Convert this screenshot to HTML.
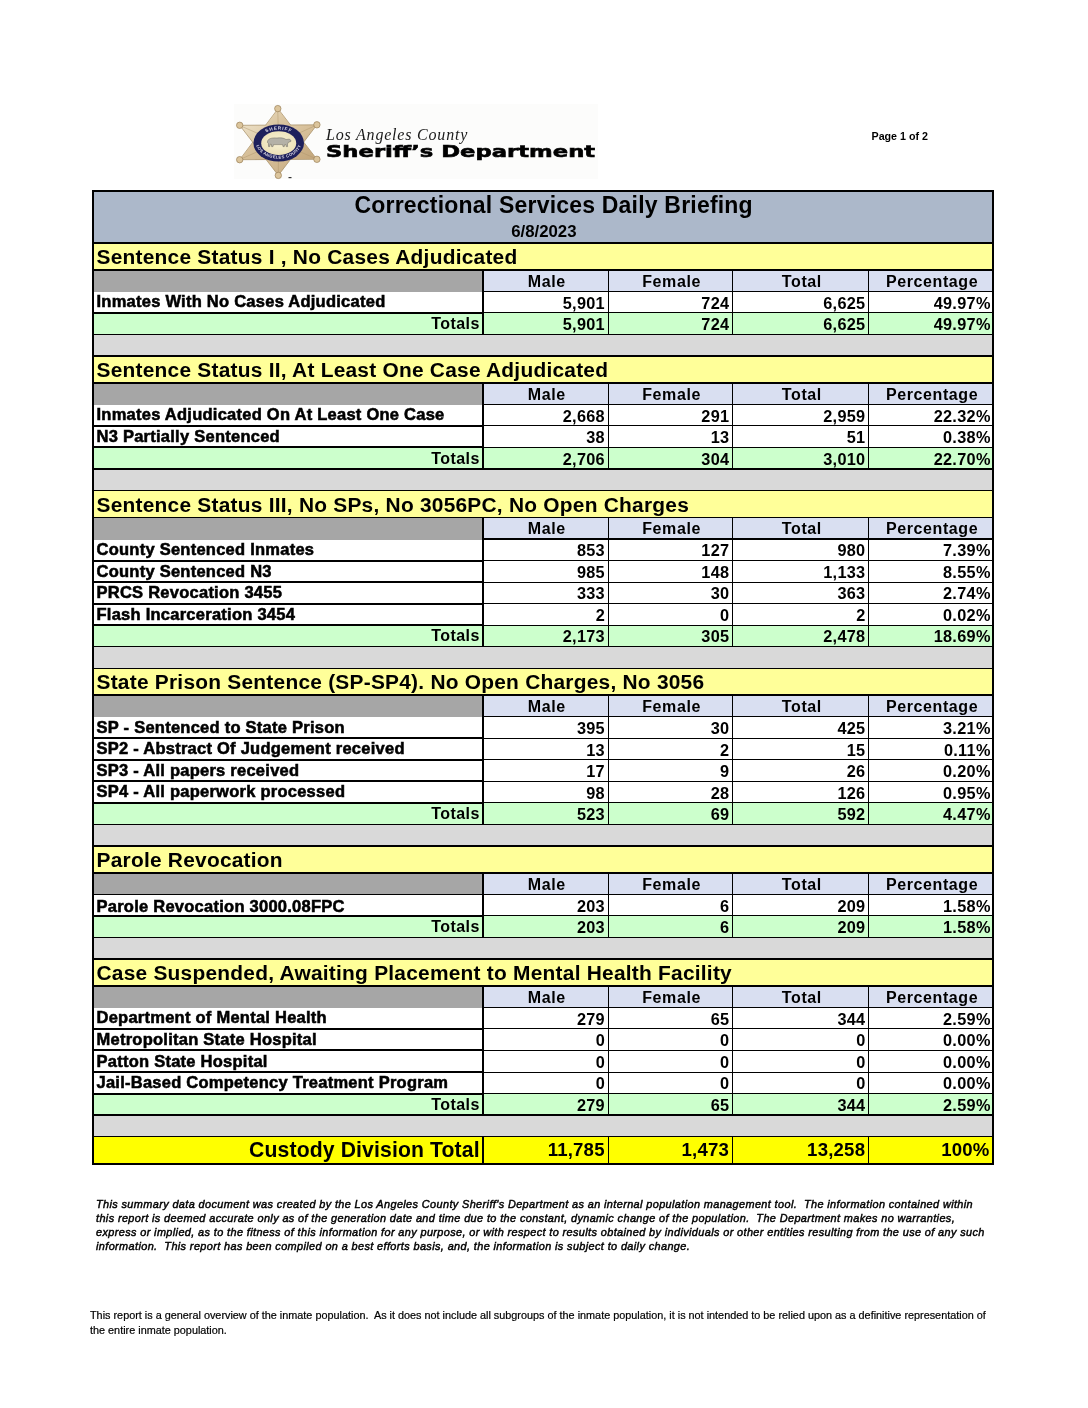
<!DOCTYPE html>
<html><head><meta charset="utf-8"><title>Correctional Services Daily Briefing</title>
<style>
html,body{margin:0;padding:0;background:#fff}
#page{position:relative;width:1088px;height:1408px;overflow:hidden;background:#fff;font-family:"Liberation Sans", Arial, Helvetica, sans-serif;color:#000}
.a{position:absolute}
.k{background:#000}
.t{position:absolute;white-space:nowrap;font-weight:bold}
.lab{-webkit-text-stroke:0.55px #000}
.title{font-size:23.0px;letter-spacing:0.2px;line-height:23.0px}
.date{font-size:16.8px;letter-spacing:0px;line-height:16.8px}
.sec{font-size:20.9px;letter-spacing:0.24px;line-height:20.9px}
.hdr{font-size:16.0px;letter-spacing:0.6px;line-height:16.0px}
.lab{font-size:16.5px;letter-spacing:0.25px;line-height:16.5px}
.num{font-size:16.3px;letter-spacing:0.3px;line-height:16.3px}
.tot{font-size:16.0px;letter-spacing:0.45px;line-height:16.0px}
.ftot{font-size:21.2px;letter-spacing:0.12px;line-height:21.2px}
.fnum{font-size:18.6px;letter-spacing:0.2px;line-height:18.6px}

.pg{position:absolute;left:871.5px;top:130.3px;font-size:10.7px;font-weight:bold;line-height:13px}
.logo-t1{position:absolute;left:326px;top:124.5px;font-family:"Liberation Serif",serif;font-style:italic;font-size:16px;letter-spacing:0.8px;white-space:nowrap;line-height:20px;color:#1a1a1a}
.logo-t2{position:absolute;left:326px;top:140.5px;font-family:"DejaVu Sans","Liberation Sans",sans-serif;font-weight:bold;font-size:16.7px;line-height:20px;white-space:nowrap;transform-origin:0 0;transform:scaleX(1.36);-webkit-text-stroke:0.6px #000}
.foot1{position:absolute;left:96px;top:1197px;font-style:italic;font-size:10.9px;letter-spacing:0.385px;line-height:14.1px;white-space:nowrap;-webkit-text-stroke:0.45px #000}
.foot2{position:absolute;left:90px;top:1308px;font-size:10.85px;line-height:15px;white-space:nowrap;-webkit-text-stroke:0.2px #000}
</style></head>
<body><div id="page">
<div class="a" style="left:234px;top:104px;width:364px;height:75px;background:#fcfcfb"></div>
<svg class="a" style="left:230px;top:100px" width="100" height="85" viewBox="230 100 100 85">
<defs>
<linearGradient id="gd" x1="0" y1="0" x2="1" y2="1"><stop offset="0" stop-color="#ece0c6"/><stop offset="0.45" stop-color="#d8c19b"/><stop offset="1" stop-color="#c3a67b"/></linearGradient>
<radialGradient id="cr" cx="0.5" cy="0.45" r="0.6"><stop offset="0" stop-color="#f8f2d6"/><stop offset="1" stop-color="#ebdfb4"/></radialGradient>
<path id="arcT" d="M259,143 A19.7,13.4 0 0 1 298.4,143"/>
<path id="arcB" d="M255.8,142 A22.9,16.6 0 0 0 301.6,142"/>
</defs>
<g fill="url(#gd)" stroke="#a38b62" stroke-width="0.7" stroke-linejoin="round">
<polygon points="278,108.7 239.7,159.7 316.9,159.3"/>
<polygon points="278.3,175.4 239.7,125.3 316.9,124.8"/>
</g>
<polygon points="278,109.6 240.6,159.1 316,158.8" fill="url(#gd)"/>
<g stroke="#ad9369" stroke-width="0.6" opacity="0.75">
<line x1="278.5" y1="142.5" x2="277.8" y2="111"/><line x1="278.5" y1="142.5" x2="278.3" y2="173"/>
<line x1="278.5" y1="142.5" x2="242" y2="126.5"/><line x1="278.5" y1="142.5" x2="242" y2="158.5"/>
<line x1="278.5" y1="142.5" x2="314.5" y2="126"/><line x1="278.5" y1="142.5" x2="314.5" y2="158"/>
</g>
<g fill="#dcc59c" stroke="#9a8058" stroke-width="0.7">
<circle cx="277.8" cy="108.6" r="3.2"/><circle cx="278.3" cy="175.4" r="3.2"/>
<circle cx="239.7" cy="125.3" r="3.2"/><circle cx="239.7" cy="159.7" r="3.2"/>
<circle cx="316.9" cy="124.8" r="3.2"/><circle cx="316.9" cy="159.3" r="3.2"/>
</g>
<ellipse cx="278.7" cy="143" rx="25.3" ry="18.6" fill="#1e205c"/>
<g font-family="Liberation Sans, sans-serif" font-weight="bold" fill="#dcdae6">
<text font-size="4.6" letter-spacing="0.9" text-anchor="middle"><textPath href="#arcT" startOffset="50%">SHERIFF</textPath></text>
<text font-size="4.2" letter-spacing="0.35" text-anchor="middle"><textPath href="#arcB" startOffset="50%">LOS ANGELES COUNTY</textPath></text>
</g>
<ellipse cx="278.7" cy="143.2" rx="17.5" ry="11.9" fill="url(#cr)"/>
<path d="M267.5,141.5 C268,138.5 272,137.6 277,138 C281,137.5 284,138 286,139.5 L289,139.2 C290.5,139.4 291.2,140.5 290.8,141.5 L288.5,142.2 L287.5,144 L287.6,146.6 L286.2,146.6 L285.8,144.5 L284.5,144.8 L284.3,146.6 L283,146.6 L282.6,144.6 L273.5,144.6 L273,146.6 L271.6,146.6 L271.4,144.4 L270.2,144.2 L269.8,146.6 L268.5,146.6 L268.4,143.5 C267.6,143 267.3,142.3 267.5,141.5 Z" fill="#b4b1a7" stroke="#5d5a52" stroke-width="0.45"/>
<rect x="288.5" y="177" width="3" height="1.2" fill="#333"/>
</svg>
<div class="pg">Page 1 of 2</div>
<div class="logo-t1">Los Angeles County</div>
<div class="logo-t2">Sheriff&#8217;s Department</div>
<div class="a" style="left:92.00px;top:190.50px;width:902.00px;height:52.40px;background:#acb8ca"></div>
<div class="a" style="left:92.00px;top:242.90px;width:902.00px;height:26.85px;background:#ffff99"></div>
<div class="a" style="left:92.00px;top:269.75px;width:391.00px;height:22.15px;background:#a6a6a6"></div>
<div class="a" style="left:483.00px;top:269.75px;width:511.00px;height:21.55px;background:#d9dff1"></div>
<div class="a" style="left:92.00px;top:312.85px;width:902.00px;height:21.55px;background:#ccffcc"></div>
<div class="a" style="left:92.00px;top:334.40px;width:902.00px;height:21.55px;background:#d9d9d9"></div>
<div class="a" style="left:92.00px;top:355.95px;width:902.00px;height:26.85px;background:#ffff99"></div>
<div class="a" style="left:92.00px;top:382.80px;width:391.00px;height:22.15px;background:#a6a6a6"></div>
<div class="a" style="left:483.00px;top:382.80px;width:511.00px;height:21.55px;background:#d9dff1"></div>
<div class="a" style="left:92.00px;top:447.45px;width:902.00px;height:21.55px;background:#ccffcc"></div>
<div class="a" style="left:92.00px;top:469.00px;width:902.00px;height:21.55px;background:#d9d9d9"></div>
<div class="a" style="left:92.00px;top:490.55px;width:902.00px;height:26.85px;background:#ffff99"></div>
<div class="a" style="left:92.00px;top:517.40px;width:391.00px;height:22.15px;background:#a6a6a6"></div>
<div class="a" style="left:483.00px;top:517.40px;width:511.00px;height:21.55px;background:#d9dff1"></div>
<div class="a" style="left:92.00px;top:625.15px;width:902.00px;height:21.55px;background:#ccffcc"></div>
<div class="a" style="left:92.00px;top:646.70px;width:902.00px;height:21.55px;background:#d9d9d9"></div>
<div class="a" style="left:92.00px;top:668.25px;width:902.00px;height:26.85px;background:#ffff99"></div>
<div class="a" style="left:92.00px;top:695.10px;width:391.00px;height:22.15px;background:#a6a6a6"></div>
<div class="a" style="left:483.00px;top:695.10px;width:511.00px;height:21.55px;background:#d9dff1"></div>
<div class="a" style="left:92.00px;top:802.85px;width:902.00px;height:21.55px;background:#ccffcc"></div>
<div class="a" style="left:92.00px;top:824.40px;width:902.00px;height:21.55px;background:#d9d9d9"></div>
<div class="a" style="left:92.00px;top:845.95px;width:902.00px;height:26.85px;background:#ffff99"></div>
<div class="a" style="left:92.00px;top:872.80px;width:391.00px;height:22.15px;background:#a6a6a6"></div>
<div class="a" style="left:483.00px;top:872.80px;width:511.00px;height:21.55px;background:#d9dff1"></div>
<div class="a" style="left:92.00px;top:915.90px;width:902.00px;height:21.55px;background:#ccffcc"></div>
<div class="a" style="left:92.00px;top:937.45px;width:902.00px;height:21.55px;background:#d9d9d9"></div>
<div class="a" style="left:92.00px;top:959.00px;width:902.00px;height:26.85px;background:#ffff99"></div>
<div class="a" style="left:92.00px;top:985.85px;width:391.00px;height:22.15px;background:#a6a6a6"></div>
<div class="a" style="left:483.00px;top:985.85px;width:511.00px;height:21.55px;background:#d9dff1"></div>
<div class="a" style="left:92.00px;top:1093.60px;width:902.00px;height:21.55px;background:#ccffcc"></div>
<div class="a" style="left:92.00px;top:1115.15px;width:902.00px;height:21.55px;background:#d9d9d9"></div>
<div class="a" style="left:92.00px;top:1136.70px;width:902.00px;height:26.85px;background:#ffff00"></div>
<div class="a k" style="left:92.00px;top:242.25px;width:902.00px;height:1.30px"></div>
<div class="a k" style="left:92.00px;top:269.00px;width:902.00px;height:1.50px"></div>
<div class="a k" style="left:482.00px;top:290.55px;width:512.00px;height:1.50px"></div>
<div class="a k" style="left:92.00px;top:312.00px;width:391.00px;height:2.00px"></div>
<div class="a k" style="left:483.00px;top:312.00px;width:511.00px;height:1.00px"></div>
<div class="a k" style="left:92.00px;top:333.65px;width:902.00px;height:1.50px"></div>
<div class="a k" style="left:482.00px;top:269.75px;width:2.00px;height:64.65px"></div>
<div class="a k" style="left:607.50px;top:269.75px;width:1.20px;height:64.65px"></div>
<div class="a k" style="left:731.90px;top:269.75px;width:1.20px;height:64.65px"></div>
<div class="a k" style="left:868.00px;top:269.75px;width:1.20px;height:64.65px"></div>
<div class="a k" style="left:92.00px;top:355.20px;width:902.00px;height:1.50px"></div>
<div class="a k" style="left:92.00px;top:382.05px;width:902.00px;height:1.50px"></div>
<div class="a k" style="left:482.00px;top:403.60px;width:512.00px;height:1.50px"></div>
<div class="a k" style="left:92.00px;top:425.00px;width:391.00px;height:2.00px"></div>
<div class="a k" style="left:483.00px;top:425.00px;width:511.00px;height:1.00px"></div>
<div class="a k" style="left:92.00px;top:446.00px;width:391.00px;height:2.00px"></div>
<div class="a k" style="left:483.00px;top:447.00px;width:511.00px;height:1.00px"></div>
<div class="a k" style="left:92.00px;top:468.25px;width:902.00px;height:1.50px"></div>
<div class="a k" style="left:482.00px;top:382.80px;width:2.00px;height:86.20px"></div>
<div class="a k" style="left:607.50px;top:382.80px;width:1.20px;height:86.20px"></div>
<div class="a k" style="left:731.90px;top:382.80px;width:1.20px;height:86.20px"></div>
<div class="a k" style="left:868.00px;top:382.80px;width:1.20px;height:86.20px"></div>
<div class="a k" style="left:92.00px;top:489.80px;width:902.00px;height:1.50px"></div>
<div class="a k" style="left:92.00px;top:516.65px;width:902.00px;height:1.50px"></div>
<div class="a k" style="left:482.00px;top:538.20px;width:512.00px;height:1.50px"></div>
<div class="a k" style="left:92.00px;top:560.00px;width:391.00px;height:2.00px"></div>
<div class="a k" style="left:483.00px;top:560.00px;width:511.00px;height:1.00px"></div>
<div class="a k" style="left:92.00px;top:581.00px;width:391.00px;height:2.00px"></div>
<div class="a k" style="left:483.00px;top:582.00px;width:511.00px;height:1.00px"></div>
<div class="a k" style="left:92.00px;top:603.00px;width:391.00px;height:2.00px"></div>
<div class="a k" style="left:483.00px;top:603.00px;width:511.00px;height:1.00px"></div>
<div class="a k" style="left:92.00px;top:624.00px;width:391.00px;height:2.00px"></div>
<div class="a k" style="left:483.00px;top:625.00px;width:511.00px;height:1.00px"></div>
<div class="a k" style="left:92.00px;top:645.95px;width:902.00px;height:1.50px"></div>
<div class="a k" style="left:482.00px;top:517.40px;width:2.00px;height:129.30px"></div>
<div class="a k" style="left:607.50px;top:517.40px;width:1.20px;height:129.30px"></div>
<div class="a k" style="left:731.90px;top:517.40px;width:1.20px;height:129.30px"></div>
<div class="a k" style="left:868.00px;top:517.40px;width:1.20px;height:129.30px"></div>
<div class="a k" style="left:92.00px;top:667.50px;width:902.00px;height:1.50px"></div>
<div class="a k" style="left:92.00px;top:694.35px;width:902.00px;height:1.50px"></div>
<div class="a k" style="left:482.00px;top:715.90px;width:512.00px;height:1.50px"></div>
<div class="a k" style="left:92.00px;top:737.00px;width:391.00px;height:2.00px"></div>
<div class="a k" style="left:483.00px;top:738.00px;width:511.00px;height:1.00px"></div>
<div class="a k" style="left:92.00px;top:759.00px;width:391.00px;height:2.00px"></div>
<div class="a k" style="left:483.00px;top:759.00px;width:511.00px;height:1.00px"></div>
<div class="a k" style="left:92.00px;top:780.00px;width:391.00px;height:2.00px"></div>
<div class="a k" style="left:483.00px;top:781.00px;width:511.00px;height:1.00px"></div>
<div class="a k" style="left:92.00px;top:802.00px;width:391.00px;height:2.00px"></div>
<div class="a k" style="left:483.00px;top:802.00px;width:511.00px;height:1.00px"></div>
<div class="a k" style="left:92.00px;top:823.65px;width:902.00px;height:1.50px"></div>
<div class="a k" style="left:482.00px;top:695.10px;width:2.00px;height:129.30px"></div>
<div class="a k" style="left:607.50px;top:695.10px;width:1.20px;height:129.30px"></div>
<div class="a k" style="left:731.90px;top:695.10px;width:1.20px;height:129.30px"></div>
<div class="a k" style="left:868.00px;top:695.10px;width:1.20px;height:129.30px"></div>
<div class="a k" style="left:92.00px;top:845.20px;width:902.00px;height:1.50px"></div>
<div class="a k" style="left:92.00px;top:872.05px;width:902.00px;height:1.50px"></div>
<div class="a k" style="left:92.00px;top:893.60px;width:902.00px;height:1.50px"></div>
<div class="a k" style="left:92.00px;top:915.00px;width:391.00px;height:2.00px"></div>
<div class="a k" style="left:483.00px;top:915.00px;width:511.00px;height:1.00px"></div>
<div class="a k" style="left:92.00px;top:936.70px;width:902.00px;height:1.50px"></div>
<div class="a k" style="left:482.00px;top:872.80px;width:2.00px;height:64.65px"></div>
<div class="a k" style="left:607.50px;top:872.80px;width:1.20px;height:64.65px"></div>
<div class="a k" style="left:731.90px;top:872.80px;width:1.20px;height:64.65px"></div>
<div class="a k" style="left:868.00px;top:872.80px;width:1.20px;height:64.65px"></div>
<div class="a k" style="left:92.00px;top:958.25px;width:902.00px;height:1.50px"></div>
<div class="a k" style="left:92.00px;top:985.10px;width:902.00px;height:1.50px"></div>
<div class="a k" style="left:482.00px;top:1006.65px;width:512.00px;height:1.50px"></div>
<div class="a k" style="left:92.00px;top:1028.00px;width:391.00px;height:2.00px"></div>
<div class="a k" style="left:483.00px;top:1028.00px;width:511.00px;height:1.00px"></div>
<div class="a k" style="left:92.00px;top:1049.00px;width:391.00px;height:2.00px"></div>
<div class="a k" style="left:483.00px;top:1050.00px;width:511.00px;height:1.00px"></div>
<div class="a k" style="left:92.00px;top:1071.00px;width:391.00px;height:2.00px"></div>
<div class="a k" style="left:483.00px;top:1072.00px;width:511.00px;height:1.00px"></div>
<div class="a k" style="left:92.00px;top:1093.00px;width:391.00px;height:2.00px"></div>
<div class="a k" style="left:483.00px;top:1093.00px;width:511.00px;height:1.00px"></div>
<div class="a k" style="left:92.00px;top:1114.40px;width:902.00px;height:1.50px"></div>
<div class="a k" style="left:482.00px;top:985.85px;width:2.00px;height:129.30px"></div>
<div class="a k" style="left:607.50px;top:985.85px;width:1.20px;height:129.30px"></div>
<div class="a k" style="left:731.90px;top:985.85px;width:1.20px;height:129.30px"></div>
<div class="a k" style="left:868.00px;top:985.85px;width:1.20px;height:129.30px"></div>
<div class="a k" style="left:92.00px;top:1135.95px;width:902.00px;height:1.50px"></div>
<div class="a k" style="left:482.00px;top:1136.70px;width:2.00px;height:26.85px"></div>
<div class="a k" style="left:607.50px;top:1136.70px;width:1.20px;height:26.85px"></div>
<div class="a k" style="left:731.90px;top:1136.70px;width:1.20px;height:26.85px"></div>
<div class="a k" style="left:868.00px;top:1136.70px;width:1.20px;height:26.85px"></div>
<div class="a k" style="left:92.00px;top:1162.55px;width:902.00px;height:2.00px"></div>
<div class="a k" style="left:92.00px;top:189.50px;width:2.00px;height:975.05px"></div>
<div class="a k" style="left:992.00px;top:189.50px;width:2.00px;height:975.05px"></div>
<div class="a k" style="left:92.00px;top:190.00px;width:902.00px;height:2.00px"></div>
<div class="t title" style="left:150.00px;top:194.03px;width:807.20px;text-align:center"><span style="margin-right:-0.2px;">Correctional Services Daily Briefing</span></div>
<div class="t date" style="left:300.00px;top:223.78px;width:487.70px;text-align:center"><span style="margin-right:-0px;">6/8/2023</span></div>
<div class="t sec" style="left:96.50px;top:246.91px;width:897.50px;text-align:left"><span style="">Sentence Status I , No Cases Adjudicated</span></div>
<div class="t hdr" style="left:484.00px;top:273.81px;width:125.10px;text-align:center"><span style="margin-right:-0.6px;">Male</span></div>
<div class="t hdr" style="left:609.10px;top:273.81px;width:124.40px;text-align:center"><span style="margin-right:-0.6px;">Female</span></div>
<div class="t hdr" style="left:733.50px;top:273.81px;width:136.10px;text-align:center"><span style="margin-right:-0.6px;">Total</span></div>
<div class="t hdr" style="left:869.60px;top:273.81px;width:124.40px;text-align:center"><span style="margin-right:-0.6px;">Percentage</span></div>
<div class="t lab" style="left:96.50px;top:293.33px;width:386.50px;text-align:left"><span style="">Inmates With No Cases Adjudicated</span></div>
<div class="t num" style="left:483.00px;top:294.60px;width:121.70px;text-align:right"><span style="margin-right:-0.3px;">5,901</span></div>
<div class="t num" style="left:608.10px;top:294.60px;width:121.00px;text-align:right"><span style="margin-right:-0.3px;">724</span></div>
<div class="t num" style="left:732.50px;top:294.60px;width:132.70px;text-align:right"><span style="margin-right:-0.3px;">6,625</span></div>
<div class="t num" style="left:868.60px;top:294.60px;width:121.80px;text-align:right"><span style="margin-right:-0.3px;">49.97%</span></div>
<div class="t tot" style="left:92.00px;top:316.01px;width:387.40px;text-align:right"><span style="margin-right:-0.45px;">Totals</span></div>
<div class="t num" style="left:483.00px;top:316.05px;width:121.70px;text-align:right"><span style="margin-right:-0.3px;">5,901</span></div>
<div class="t num" style="left:608.10px;top:316.05px;width:121.00px;text-align:right"><span style="margin-right:-0.3px;">724</span></div>
<div class="t num" style="left:732.50px;top:316.05px;width:132.70px;text-align:right"><span style="margin-right:-0.3px;">6,625</span></div>
<div class="t num" style="left:868.60px;top:316.05px;width:121.80px;text-align:right"><span style="margin-right:-0.3px;">49.97%</span></div>
<div class="t sec" style="left:96.50px;top:359.96px;width:897.50px;text-align:left"><span style="">Sentence Status II, At Least One Case Adjudicated</span></div>
<div class="t hdr" style="left:484.00px;top:386.86px;width:125.10px;text-align:center"><span style="margin-right:-0.6px;">Male</span></div>
<div class="t hdr" style="left:609.10px;top:386.86px;width:124.40px;text-align:center"><span style="margin-right:-0.6px;">Female</span></div>
<div class="t hdr" style="left:733.50px;top:386.86px;width:136.10px;text-align:center"><span style="margin-right:-0.6px;">Total</span></div>
<div class="t hdr" style="left:869.60px;top:386.86px;width:124.40px;text-align:center"><span style="margin-right:-0.6px;">Percentage</span></div>
<div class="t lab" style="left:96.50px;top:406.38px;width:386.50px;text-align:left"><span style="">Inmates Adjudicated On At Least One Case</span></div>
<div class="t num" style="left:483.00px;top:407.65px;width:121.70px;text-align:right"><span style="margin-right:-0.3px;">2,668</span></div>
<div class="t num" style="left:608.10px;top:407.65px;width:121.00px;text-align:right"><span style="margin-right:-0.3px;">291</span></div>
<div class="t num" style="left:732.50px;top:407.65px;width:132.70px;text-align:right"><span style="margin-right:-0.3px;">2,959</span></div>
<div class="t num" style="left:868.60px;top:407.65px;width:121.80px;text-align:right"><span style="margin-right:-0.3px;">22.32%</span></div>
<div class="t lab" style="left:96.50px;top:427.93px;width:386.50px;text-align:left"><span style="">N3 Partially Sentenced</span></div>
<div class="t num" style="left:483.00px;top:429.20px;width:121.70px;text-align:right"><span style="margin-right:-0.3px;">38</span></div>
<div class="t num" style="left:608.10px;top:429.20px;width:121.00px;text-align:right"><span style="margin-right:-0.3px;">13</span></div>
<div class="t num" style="left:732.50px;top:429.20px;width:132.70px;text-align:right"><span style="margin-right:-0.3px;">51</span></div>
<div class="t num" style="left:868.60px;top:429.20px;width:121.80px;text-align:right"><span style="margin-right:-0.3px;">0.38%</span></div>
<div class="t tot" style="left:92.00px;top:450.61px;width:387.40px;text-align:right"><span style="margin-right:-0.45px;">Totals</span></div>
<div class="t num" style="left:483.00px;top:450.65px;width:121.70px;text-align:right"><span style="margin-right:-0.3px;">2,706</span></div>
<div class="t num" style="left:608.10px;top:450.65px;width:121.00px;text-align:right"><span style="margin-right:-0.3px;">304</span></div>
<div class="t num" style="left:732.50px;top:450.65px;width:132.70px;text-align:right"><span style="margin-right:-0.3px;">3,010</span></div>
<div class="t num" style="left:868.60px;top:450.65px;width:121.80px;text-align:right"><span style="margin-right:-0.3px;">22.70%</span></div>
<div class="t sec" style="left:96.50px;top:494.56px;width:897.50px;text-align:left"><span style="">Sentence Status III, No SPs, No 3056PC, No Open Charges</span></div>
<div class="t hdr" style="left:484.00px;top:521.46px;width:125.10px;text-align:center"><span style="margin-right:-0.6px;">Male</span></div>
<div class="t hdr" style="left:609.10px;top:521.46px;width:124.40px;text-align:center"><span style="margin-right:-0.6px;">Female</span></div>
<div class="t hdr" style="left:733.50px;top:521.46px;width:136.10px;text-align:center"><span style="margin-right:-0.6px;">Total</span></div>
<div class="t hdr" style="left:869.60px;top:521.46px;width:124.40px;text-align:center"><span style="margin-right:-0.6px;">Percentage</span></div>
<div class="t lab" style="left:96.50px;top:540.98px;width:386.50px;text-align:left"><span style="">County Sentenced Inmates</span></div>
<div class="t num" style="left:483.00px;top:542.25px;width:121.70px;text-align:right"><span style="margin-right:-0.3px;">853</span></div>
<div class="t num" style="left:608.10px;top:542.25px;width:121.00px;text-align:right"><span style="margin-right:-0.3px;">127</span></div>
<div class="t num" style="left:732.50px;top:542.25px;width:132.70px;text-align:right"><span style="margin-right:-0.3px;">980</span></div>
<div class="t num" style="left:868.60px;top:542.25px;width:121.80px;text-align:right"><span style="margin-right:-0.3px;">7.39%</span></div>
<div class="t lab" style="left:96.50px;top:562.53px;width:386.50px;text-align:left"><span style="">County Sentenced N3</span></div>
<div class="t num" style="left:483.00px;top:563.80px;width:121.70px;text-align:right"><span style="margin-right:-0.3px;">985</span></div>
<div class="t num" style="left:608.10px;top:563.80px;width:121.00px;text-align:right"><span style="margin-right:-0.3px;">148</span></div>
<div class="t num" style="left:732.50px;top:563.80px;width:132.70px;text-align:right"><span style="margin-right:-0.3px;">1,133</span></div>
<div class="t num" style="left:868.60px;top:563.80px;width:121.80px;text-align:right"><span style="margin-right:-0.3px;">8.55%</span></div>
<div class="t lab" style="left:96.50px;top:584.08px;width:386.50px;text-align:left"><span style="">PRCS Revocation 3455</span></div>
<div class="t num" style="left:483.00px;top:585.35px;width:121.70px;text-align:right"><span style="margin-right:-0.3px;">333</span></div>
<div class="t num" style="left:608.10px;top:585.35px;width:121.00px;text-align:right"><span style="margin-right:-0.3px;">30</span></div>
<div class="t num" style="left:732.50px;top:585.35px;width:132.70px;text-align:right"><span style="margin-right:-0.3px;">363</span></div>
<div class="t num" style="left:868.60px;top:585.35px;width:121.80px;text-align:right"><span style="margin-right:-0.3px;">2.74%</span></div>
<div class="t lab" style="left:96.50px;top:605.63px;width:386.50px;text-align:left"><span style="">Flash Incarceration 3454</span></div>
<div class="t num" style="left:483.00px;top:606.90px;width:121.70px;text-align:right"><span style="margin-right:-0.3px;">2</span></div>
<div class="t num" style="left:608.10px;top:606.90px;width:121.00px;text-align:right"><span style="margin-right:-0.3px;">0</span></div>
<div class="t num" style="left:732.50px;top:606.90px;width:132.70px;text-align:right"><span style="margin-right:-0.3px;">2</span></div>
<div class="t num" style="left:868.60px;top:606.90px;width:121.80px;text-align:right"><span style="margin-right:-0.3px;">0.02%</span></div>
<div class="t tot" style="left:92.00px;top:628.31px;width:387.40px;text-align:right"><span style="margin-right:-0.45px;">Totals</span></div>
<div class="t num" style="left:483.00px;top:628.35px;width:121.70px;text-align:right"><span style="margin-right:-0.3px;">2,173</span></div>
<div class="t num" style="left:608.10px;top:628.35px;width:121.00px;text-align:right"><span style="margin-right:-0.3px;">305</span></div>
<div class="t num" style="left:732.50px;top:628.35px;width:132.70px;text-align:right"><span style="margin-right:-0.3px;">2,478</span></div>
<div class="t num" style="left:868.60px;top:628.35px;width:121.80px;text-align:right"><span style="margin-right:-0.3px;">18.69%</span></div>
<div class="t sec" style="left:96.50px;top:672.26px;width:897.50px;text-align:left"><span style="">State Prison Sentence (SP-SP4). No Open Charges, No 3056</span></div>
<div class="t hdr" style="left:484.00px;top:699.16px;width:125.10px;text-align:center"><span style="margin-right:-0.6px;">Male</span></div>
<div class="t hdr" style="left:609.10px;top:699.16px;width:124.40px;text-align:center"><span style="margin-right:-0.6px;">Female</span></div>
<div class="t hdr" style="left:733.50px;top:699.16px;width:136.10px;text-align:center"><span style="margin-right:-0.6px;">Total</span></div>
<div class="t hdr" style="left:869.60px;top:699.16px;width:124.40px;text-align:center"><span style="margin-right:-0.6px;">Percentage</span></div>
<div class="t lab" style="left:96.50px;top:718.68px;width:386.50px;text-align:left"><span style="">SP - Sentenced to State Prison</span></div>
<div class="t num" style="left:483.00px;top:719.95px;width:121.70px;text-align:right"><span style="margin-right:-0.3px;">395</span></div>
<div class="t num" style="left:608.10px;top:719.95px;width:121.00px;text-align:right"><span style="margin-right:-0.3px;">30</span></div>
<div class="t num" style="left:732.50px;top:719.95px;width:132.70px;text-align:right"><span style="margin-right:-0.3px;">425</span></div>
<div class="t num" style="left:868.60px;top:719.95px;width:121.80px;text-align:right"><span style="margin-right:-0.3px;">3.21%</span></div>
<div class="t lab" style="left:96.50px;top:740.23px;width:386.50px;text-align:left"><span style="">SP2 - Abstract Of Judgement received</span></div>
<div class="t num" style="left:483.00px;top:741.50px;width:121.70px;text-align:right"><span style="margin-right:-0.3px;">13</span></div>
<div class="t num" style="left:608.10px;top:741.50px;width:121.00px;text-align:right"><span style="margin-right:-0.3px;">2</span></div>
<div class="t num" style="left:732.50px;top:741.50px;width:132.70px;text-align:right"><span style="margin-right:-0.3px;">15</span></div>
<div class="t num" style="left:868.60px;top:741.50px;width:121.80px;text-align:right"><span style="margin-right:-0.3px;">0.11%</span></div>
<div class="t lab" style="left:96.50px;top:761.78px;width:386.50px;text-align:left"><span style="">SP3 - All papers received</span></div>
<div class="t num" style="left:483.00px;top:763.05px;width:121.70px;text-align:right"><span style="margin-right:-0.3px;">17</span></div>
<div class="t num" style="left:608.10px;top:763.05px;width:121.00px;text-align:right"><span style="margin-right:-0.3px;">9</span></div>
<div class="t num" style="left:732.50px;top:763.05px;width:132.70px;text-align:right"><span style="margin-right:-0.3px;">26</span></div>
<div class="t num" style="left:868.60px;top:763.05px;width:121.80px;text-align:right"><span style="margin-right:-0.3px;">0.20%</span></div>
<div class="t lab" style="left:96.50px;top:783.33px;width:386.50px;text-align:left"><span style="">SP4 - All paperwork processed</span></div>
<div class="t num" style="left:483.00px;top:784.60px;width:121.70px;text-align:right"><span style="margin-right:-0.3px;">98</span></div>
<div class="t num" style="left:608.10px;top:784.60px;width:121.00px;text-align:right"><span style="margin-right:-0.3px;">28</span></div>
<div class="t num" style="left:732.50px;top:784.60px;width:132.70px;text-align:right"><span style="margin-right:-0.3px;">126</span></div>
<div class="t num" style="left:868.60px;top:784.60px;width:121.80px;text-align:right"><span style="margin-right:-0.3px;">0.95%</span></div>
<div class="t tot" style="left:92.00px;top:806.01px;width:387.40px;text-align:right"><span style="margin-right:-0.45px;">Totals</span></div>
<div class="t num" style="left:483.00px;top:806.05px;width:121.70px;text-align:right"><span style="margin-right:-0.3px;">523</span></div>
<div class="t num" style="left:608.10px;top:806.05px;width:121.00px;text-align:right"><span style="margin-right:-0.3px;">69</span></div>
<div class="t num" style="left:732.50px;top:806.05px;width:132.70px;text-align:right"><span style="margin-right:-0.3px;">592</span></div>
<div class="t num" style="left:868.60px;top:806.05px;width:121.80px;text-align:right"><span style="margin-right:-0.3px;">4.47%</span></div>
<div class="t sec" style="left:96.50px;top:849.96px;width:897.50px;text-align:left"><span style="">Parole Revocation</span></div>
<div class="t hdr" style="left:484.00px;top:876.86px;width:125.10px;text-align:center"><span style="margin-right:-0.6px;">Male</span></div>
<div class="t hdr" style="left:609.10px;top:876.86px;width:124.40px;text-align:center"><span style="margin-right:-0.6px;">Female</span></div>
<div class="t hdr" style="left:733.50px;top:876.86px;width:136.10px;text-align:center"><span style="margin-right:-0.6px;">Total</span></div>
<div class="t hdr" style="left:869.60px;top:876.86px;width:124.40px;text-align:center"><span style="margin-right:-0.6px;">Percentage</span></div>
<div class="t lab" style="left:96.50px;top:897.68px;width:386.50px;text-align:left"><span style="">Parole Revocation 3000.08FPC</span></div>
<div class="t num" style="left:483.00px;top:897.65px;width:121.70px;text-align:right"><span style="margin-right:-0.3px;">203</span></div>
<div class="t num" style="left:608.10px;top:897.65px;width:121.00px;text-align:right"><span style="margin-right:-0.3px;">6</span></div>
<div class="t num" style="left:732.50px;top:897.65px;width:132.70px;text-align:right"><span style="margin-right:-0.3px;">209</span></div>
<div class="t num" style="left:868.60px;top:897.65px;width:121.80px;text-align:right"><span style="margin-right:-0.3px;">1.58%</span></div>
<div class="t tot" style="left:92.00px;top:919.06px;width:387.40px;text-align:right"><span style="margin-right:-0.45px;">Totals</span></div>
<div class="t num" style="left:483.00px;top:919.10px;width:121.70px;text-align:right"><span style="margin-right:-0.3px;">203</span></div>
<div class="t num" style="left:608.10px;top:919.10px;width:121.00px;text-align:right"><span style="margin-right:-0.3px;">6</span></div>
<div class="t num" style="left:732.50px;top:919.10px;width:132.70px;text-align:right"><span style="margin-right:-0.3px;">209</span></div>
<div class="t num" style="left:868.60px;top:919.10px;width:121.80px;text-align:right"><span style="margin-right:-0.3px;">1.58%</span></div>
<div class="t sec" style="left:96.50px;top:963.01px;width:897.50px;text-align:left"><span style="">Case Suspended, Awaiting Placement to Mental Health Facility</span></div>
<div class="t hdr" style="left:484.00px;top:989.91px;width:125.10px;text-align:center"><span style="margin-right:-0.6px;">Male</span></div>
<div class="t hdr" style="left:609.10px;top:989.91px;width:124.40px;text-align:center"><span style="margin-right:-0.6px;">Female</span></div>
<div class="t hdr" style="left:733.50px;top:989.91px;width:136.10px;text-align:center"><span style="margin-right:-0.6px;">Total</span></div>
<div class="t hdr" style="left:869.60px;top:989.91px;width:124.40px;text-align:center"><span style="margin-right:-0.6px;">Percentage</span></div>
<div class="t lab" style="left:96.50px;top:1009.43px;width:386.50px;text-align:left"><span style="">Department of Mental Health</span></div>
<div class="t num" style="left:483.00px;top:1010.70px;width:121.70px;text-align:right"><span style="margin-right:-0.3px;">279</span></div>
<div class="t num" style="left:608.10px;top:1010.70px;width:121.00px;text-align:right"><span style="margin-right:-0.3px;">65</span></div>
<div class="t num" style="left:732.50px;top:1010.70px;width:132.70px;text-align:right"><span style="margin-right:-0.3px;">344</span></div>
<div class="t num" style="left:868.60px;top:1010.70px;width:121.80px;text-align:right"><span style="margin-right:-0.3px;">2.59%</span></div>
<div class="t lab" style="left:96.50px;top:1030.98px;width:386.50px;text-align:left"><span style="">Metropolitan State Hospital</span></div>
<div class="t num" style="left:483.00px;top:1032.25px;width:121.70px;text-align:right"><span style="margin-right:-0.3px;">0</span></div>
<div class="t num" style="left:608.10px;top:1032.25px;width:121.00px;text-align:right"><span style="margin-right:-0.3px;">0</span></div>
<div class="t num" style="left:732.50px;top:1032.25px;width:132.70px;text-align:right"><span style="margin-right:-0.3px;">0</span></div>
<div class="t num" style="left:868.60px;top:1032.25px;width:121.80px;text-align:right"><span style="margin-right:-0.3px;">0.00%</span></div>
<div class="t lab" style="left:96.50px;top:1052.53px;width:386.50px;text-align:left"><span style="">Patton State Hospital</span></div>
<div class="t num" style="left:483.00px;top:1053.80px;width:121.70px;text-align:right"><span style="margin-right:-0.3px;">0</span></div>
<div class="t num" style="left:608.10px;top:1053.80px;width:121.00px;text-align:right"><span style="margin-right:-0.3px;">0</span></div>
<div class="t num" style="left:732.50px;top:1053.80px;width:132.70px;text-align:right"><span style="margin-right:-0.3px;">0</span></div>
<div class="t num" style="left:868.60px;top:1053.80px;width:121.80px;text-align:right"><span style="margin-right:-0.3px;">0.00%</span></div>
<div class="t lab" style="left:96.50px;top:1074.08px;width:386.50px;text-align:left"><span style="">Jail-Based Competency Treatment Program</span></div>
<div class="t num" style="left:483.00px;top:1075.35px;width:121.70px;text-align:right"><span style="margin-right:-0.3px;">0</span></div>
<div class="t num" style="left:608.10px;top:1075.35px;width:121.00px;text-align:right"><span style="margin-right:-0.3px;">0</span></div>
<div class="t num" style="left:732.50px;top:1075.35px;width:132.70px;text-align:right"><span style="margin-right:-0.3px;">0</span></div>
<div class="t num" style="left:868.60px;top:1075.35px;width:121.80px;text-align:right"><span style="margin-right:-0.3px;">0.00%</span></div>
<div class="t tot" style="left:92.00px;top:1096.76px;width:387.40px;text-align:right"><span style="margin-right:-0.45px;">Totals</span></div>
<div class="t num" style="left:483.00px;top:1096.80px;width:121.70px;text-align:right"><span style="margin-right:-0.3px;">279</span></div>
<div class="t num" style="left:608.10px;top:1096.80px;width:121.00px;text-align:right"><span style="margin-right:-0.3px;">65</span></div>
<div class="t num" style="left:732.50px;top:1096.80px;width:132.70px;text-align:right"><span style="margin-right:-0.3px;">344</span></div>
<div class="t num" style="left:868.60px;top:1096.80px;width:121.80px;text-align:right"><span style="margin-right:-0.3px;">2.59%</span></div>
<div class="t ftot" style="left:92.00px;top:1139.05px;width:387.60px;text-align:right"><span style="margin-right:-0.12px;">Custody Division Total</span></div>
<div class="t fnum" style="left:483.00px;top:1140.96px;width:121.50px;text-align:right"><span style="margin-right:-0.2px;">11,785</span></div>
<div class="t fnum" style="left:608.10px;top:1140.96px;width:120.80px;text-align:right"><span style="margin-right:-0.2px;">1,473</span></div>
<div class="t fnum" style="left:732.50px;top:1140.96px;width:132.50px;text-align:right"><span style="margin-right:-0.2px;">13,258</span></div>
<div class="t fnum" style="left:868.60px;top:1140.96px;width:120.80px;text-align:right"><span style="margin-right:-0.2px;">100%</span></div>
<div class="foot1">This summary data document was created by the Los Angeles County Sheriff's Department as an internal population management tool.&nbsp; The information contained within<br>this report is deemed accurate only as of the generation date and time due to the constant, dynamic change of the population.&nbsp; The Department makes no warranties,<br>express or implied, as to the fitness of this information for any purpose, or with respect to results obtained by individuals or other entities resulting from the use of any such<br>information.&nbsp; This report has been compiled on a best efforts basis, and, the information is subject to daily change.</div>
<div class="foot2">This report is a general overview of the inmate population.&nbsp; As it does not include all subgroups of the inmate population, it is not intended to be relied upon as a definitive representation of<br>the entire inmate population.</div>
</div></body></html>
